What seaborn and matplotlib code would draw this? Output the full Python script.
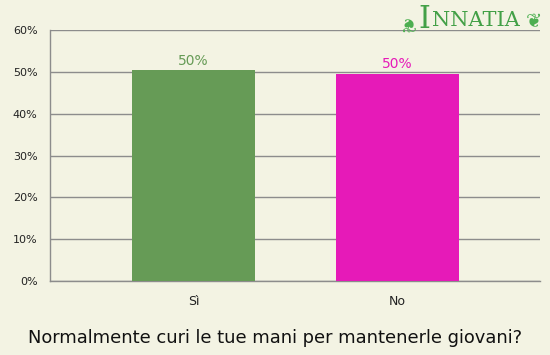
import matplotlib
matplotlib.use("Agg")
import matplotlib.pyplot as plt
import seaborn as sns
import pandas as pd
from matplotlib.ticker import FixedLocator

categories = ["Sì", "No"]
values = [50.4, 49.6]
labels = ["50%", "50%"]
yticks = [0, 10, 20, 30, 40, 50, 60]
ytick_labels = ["0%", "10%", "20%", "30%", "40%", "50%", "60%"]
title = "Normalmente curi le tue mani per mantenerle giovani?"

bg = "#f3f3e3"
colors = ["#669b56", "#e61ab8"]
grid_c = "#8c8c8c"

sns.set_style("white")
plt.rcParams["font.family"] = ["DejaVu Sans"]

df = pd.DataFrame({"cat": categories, "val": values})

fig = plt.figure(figsize=(5.5, 3.55), dpi=100)
fig.patch.set_facecolor(bg)
ax = fig.add_axes([50/550, 1-281/355, 490/550, 251/355])
ax.set_facecolor(bg)

sns.barplot(data=df, x="cat", y="val", hue="cat", palette=colors,
            width=0.6, saturation=1, legend=False, ax=ax, zorder=3,
            linewidth=0, edgecolor="none")

ax.set_xlim(-0.703, 1.699)
ax.set_ylim(0, 60)
ax.set_yticks(yticks)
ax.set_yticklabels(ytick_labels, fontsize=8, color="#222222")
ax.yaxis.grid(True, color=grid_c, linewidth=1)
ax.set_axisbelow(True)
ax.tick_params(axis="y", length=5, color=grid_c, pad=4)
ax.tick_params(axis="x", length=0, pad=10, labelsize=9, labelcolor="#222222")
ax.xaxis.set_minor_locator(FixedLocator([-0.703, 0.5]))
ax.tick_params(axis="x", which="minor", length=5, color=grid_c, width=1)

for s in ["top", "right"]:
    ax.spines[s].set_visible(False)
for s in ["left", "bottom"]:
    ax.spines[s].set_color(grid_c)
    ax.spines[s].set_linewidth(1)

ax.set_xlabel("")
ax.set_ylabel("")

for i, (v, lab) in enumerate(zip(values, labels)):
    ax.text(i, v + 0.6, lab, ha="center", va="bottom", fontsize=10, color=colors[i])

fig.text(0.5, 1-338/355, title, ha="center", va="center", fontsize=12.9, color="#111111")

# logo
fig.text(407/550, 1-22/355, "❦", ha="center", va="center", fontsize=14, color="#4caf50", rotation=180)
fig.text(424/550, 1-19/355, "I", ha="center", va="center", fontsize=22, color="#43a047", family="DejaVu Serif")
fig.text(432/550, 1-21/355, "NNATIA", ha="left", va="center", fontsize=15, color="#43a047", family="DejaVu Serif")
fig.text(534/550, 1-22/355, "❦", ha="center", va="center", fontsize=14, color="#4caf50")

fig.savefig("out.png", dpi=100, facecolor=bg)
